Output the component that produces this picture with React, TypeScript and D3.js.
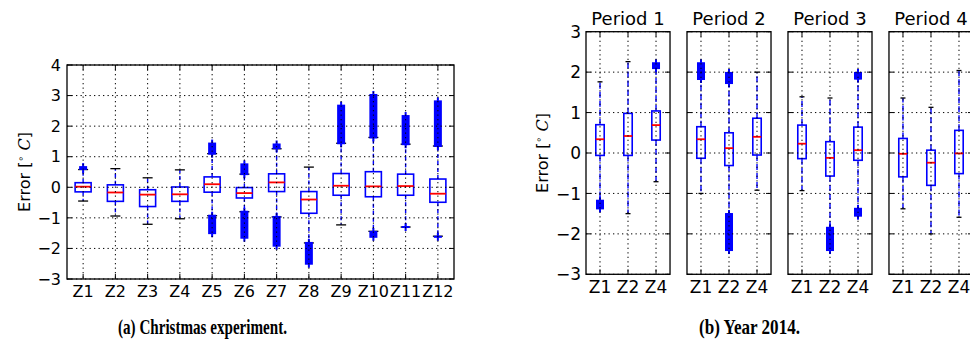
import * as d3 from 'd3'

// (a) Christmas experiment: one box per zone
const zonesA = ['Z1', 'Z2', 'Z3', 'Z4', 'Z5', 'Z6', 'Z7', 'Z8', 'Z9', 'Z10', 'Z11', 'Z12']
const medA = [0.02, -0.17, -0.24, -0.23, 0.10, -0.19, 0.16, -0.40, 0.05, 0.03, 0.04, -0.21]
const q1A = [-0.15, -0.46, -0.63, -0.46, -0.16, -0.35, -0.14, -0.85, -0.26, -0.31, -0.26, -0.49]
const q3A = [0.15, 0.08, -0.08, 0.01, 0.34, -0.01, 0.44, -0.14, 0.45, 0.51, 0.43, 0.27]
const whLoA = [-0.45, -0.94, -1.21, -1.03, -0.93, -0.80, -0.97, -1.82, -1.23, -1.44, -1.30, -1.60]
const whHiA = [0.58, 0.61, 0.31, 0.57, 1.10, 0.43, 1.26, 0.66, 1.44, 1.63, 1.41, 1.35]
// outlier clusters as [low, high] ranges of stacked '+' markers
const fliersA: [number, number][][] = [
  [[0.6, 0.66]],
  [],
  [],
  [],
  [[1.1, 1.43], [-1.5, -0.93]],
  [[0.43, 0.75], [-1.65, -0.8]],
  [[1.28, 1.4], [-1.91, -0.97]],
  [[-2.5, -1.82]],
  [[1.44, 2.67]],
  [[1.63, 3.02], [-1.62, -1.46]],
  [[1.41, 2.33], [-1.3, -1.3]],
  [[1.35, 2.81], [-1.62, -1.62]],
]
const yTicksA = [-3, -2, -1, 0, 1, 2, 3, 4]

// (b) Year 2014: four periods, three zones each
const periods = ['Period 1', 'Period 2', 'Period 3', 'Period 4']
const zonesB = ['Z1', 'Z2', 'Z4']
const medB = [[0.34, 0.42, 0.69], [0.34, 0.12, 0.40], [0.23, -0.12, 0.07], [-0.02, -0.24, -0.01]]
const q1B = [[-0.06, -0.06, 0.32], [-0.13, -0.31, -0.05], [-0.14, -0.57, -0.18], [-0.59, -0.80, -0.51]]
const q3B = [[0.70, 0.98, 1.04], [0.65, 0.50, 0.86], [0.69, 0.28, 0.64], [0.36, 0.07, 0.56]]
const whLoB = [[-1.18, -1.5, -0.71], [-1.0, -1.51, -0.92], [-0.93, -1.85, -1.38], [-1.38, -2.0, -1.59]]
const whHiB = [[1.76, 2.26, 2.1], [1.83, 1.73, 2.0], [1.39, 1.36, 1.84], [1.36, 1.13, 2.04]]
const fliersB: [number, number][][][] = [
  [[[-1.37, -1.18]], [], [[2.1, 2.22]]],
  [[[1.83, 2.22]], [[1.73, 1.98], [-2.4, -1.51]], []],
  [[], [[-2.4, -1.85]], [[1.84, 1.98], [-1.55, -1.38]]],
  [[], [], []],
]
const yTicksB = [-3, -2, -1, 0, 1, 2, 3]

const BLUE = '#0000ff'
const FONT = 'DejaVu Sans, sans-serif'
const SERIF = 'Liberation Serif, Times New Roman, serif'
const fmt = (v: number) => (v < 0 ? '\u2212' + Math.abs(v) : String(v))

function Box(props: {
  cx: number; y: d3.ScaleLinear<number, number>; w: number; capW: number; dash: string
  med: number; q1: number; q3: number; lo: number; hi: number; fliers: [number, number][]
}) {
  const { cx, y, w, capW, dash, med, q1, q3, lo, hi, fliers } = props
  return (
    <g>
      <line x1={cx} x2={cx} y1={y(q3)} y2={y(hi)} stroke={BLUE} strokeWidth={1.4} strokeDasharray={dash} />
      <line x1={cx} x2={cx} y1={y(q1)} y2={y(lo)} stroke={BLUE} strokeWidth={1.4} strokeDasharray={dash} />
      <line x1={cx - capW / 2} x2={cx + capW / 2} y1={y(hi)} y2={y(hi)} stroke="#000" strokeWidth={1.3} />
      <line x1={cx - capW / 2} x2={cx + capW / 2} y1={y(lo)} y2={y(lo)} stroke="#000" strokeWidth={1.3} />
      <rect x={cx - w / 2} y={y(q3)} width={w} height={y(q1) - y(q3)} fill="none" stroke={BLUE} strokeWidth={1.6} />
      <line x1={cx - w / 2} x2={cx + w / 2} y1={y(med)} y2={y(med)} stroke="#ff0000" strokeWidth={1.8} />
      {fliers.map(([a, b], i) => (
        <g key={i}>
          <rect x={cx - 4} y={y(b) - 1} width={8} height={y(a) - y(b) + 2} fill={BLUE} />
          <line x1={cx} x2={cx} y1={y(b) - 4} y2={y(a) + 4} stroke={BLUE} strokeWidth={2} />
        </g>
      ))}
    </g>
  )
}

function Frame(props: {
  x0: number; x1: number; y0: number; y1: number
  xs: number[]; ys: number[]
}) {
  const { x0, x1, y0, y1, xs, ys } = props
  const t = 5
  return (
    <g>
      {ys.map((v, i) => (
        <line key={'gy' + i} x1={x0} x2={x1} y1={v} y2={v} stroke="#000" strokeWidth={1} strokeDasharray="1.3,3.2" />
      ))}
      {xs.map((v, i) => (
        <line key={'gx' + i} x1={v} x2={v} y1={y0} y2={y1} stroke="#000" strokeWidth={1} strokeDasharray="1.3,3.2" />
      ))}
      {ys.map((v, i) => (
        <g key={'ty' + i}>
          <line x1={x0} x2={x0 + t} y1={v} y2={v} stroke="#000" strokeWidth={1} />
          <line x1={x1 - t} x2={x1} y1={v} y2={v} stroke="#000" strokeWidth={1} />
        </g>
      ))}
      {xs.map((v, i) => (
        <g key={'tx' + i}>
          <line x1={v} x2={v} y1={y1} y2={y1 - t} stroke="#000" strokeWidth={1} />
          <line x1={v} x2={v} y1={y0} y2={y0 + t} stroke="#000" strokeWidth={1} />
        </g>
      ))}
      <rect x={x0} y={y0} width={x1 - x0} height={y1 - y0} fill="none" stroke="#000" strokeWidth={1.3} />
    </g>
  )
}

function YLabel(props: { x: number; y: number; size: number }) {
  const { x, y, size } = props
  return (
    <text transform={`translate(${x},${y}) rotate(-90)`} textAnchor="middle" fontFamily={FONT} fontSize={size} fill="#000">
      Error [
      <tspan dy={-6} fontSize={size * 0.6}>{'\u2218'}</tspan>
      <tspan dy={6} fontStyle="italic" fontFamily="DejaVu Serif, serif">{' C'}</tspan>
      ]
    </text>
  )
}

export default function App() {
  const xA = d3.scaleLinear().domain([0.5, zonesA.length + 0.5]).range([67, 454])
  const yA = d3.scaleLinear().domain([-3, 4]).range([279, 65])

  const panel = d3.scaleBand<string>().domain(periods).range([586, 973]).paddingInner(0.168)
  const yB = d3.scaleLinear().domain([-3, 3]).range([274.3, 31.7])

  return (
    <svg width={970} height={349} style={{ position: 'absolute', left: 0, top: 0, background: '#fff' }}>
      {/* (a) */}
      {zonesA.map((z, i) => (
        <Box key={z} cx={xA(i + 1)} y={yA} w={16} capW={10} dash="4,3"
          med={medA[i]} q1={q1A[i]} q3={q3A[i]} lo={whLoA[i]} hi={whHiA[i]} fliers={fliersA[i]} />
      ))}
      <Frame x0={xA.range()[0]} x1={xA.range()[1]} y0={yA.range()[1]} y1={yA.range()[0]}
        xs={zonesA.map((_, i) => xA(i + 1))} ys={yTicksA.map(v => yA(v))} />
      {yTicksA.map(v => (
        <text key={v} x={61} y={yA(v)} dy="0.36em" textAnchor="end" fontFamily={FONT} fontSize={16}>{fmt(v)}</text>
      ))}
      {zonesA.map((z, i) => (
        <text key={z} x={xA(i + 1)} y={297} textAnchor="middle" fontFamily={FONT} fontSize={16}>{z}</text>
      ))}
      <YLabel x={30} y={172} size={16} />
      <text x={118} y={334} fontFamily={SERIF} fontWeight="bold" fontSize={21}
        textLength={169} lengthAdjust="spacingAndGlyphs">
        (a) Christmas experiment.
      </text>

      {/* (b) */}
      {periods.map((p, pi) => {
        const left = panel(p)!
        const xb = d3.scaleLinear().domain([0.5, zonesB.length + 0.5]).range([left, left + panel.bandwidth()])
        return (
          <g key={p}>
            {zonesB.map((z, i) => (
              <Box key={z} cx={xb(i + 1)} y={yB} w={8.4} capW={5} dash="6,3"
                med={medB[pi][i]} q1={q1B[pi][i]} q3={q3B[pi][i]} lo={whLoB[pi][i]} hi={whHiB[pi][i]} fliers={fliersB[pi][i]} />
            ))}
            <Frame x0={xb.range()[0]} x1={xb.range()[1]} y0={yB.range()[1]} y1={yB.range()[0]}
              xs={zonesB.map((_, i) => xb(i + 1))} ys={yTicksB.map(v => yB(v))} />
            {zonesB.map((z, i) => (
              <text key={z} x={xb(i + 1)} y={293} textAnchor="middle" fontFamily={FONT} fontSize={17}>{z}</text>
            ))}
            <text x={left + panel.bandwidth() / 2} y={25} textAnchor="middle" fontFamily={FONT} fontSize={18}>{p}</text>
          </g>
        )
      })}
      {yTicksB.map(v => (
        <text key={v} x={581} y={yB(v)} dy="0.36em" textAnchor="end" fontFamily={FONT} fontSize={17}>{fmt(v)}</text>
      ))}
      <YLabel x={548} y={153} size={16} />
      <text x={699} y={334} fontFamily={SERIF} fontWeight="bold" fontSize={21}
        textLength={101} lengthAdjust="spacingAndGlyphs">
        (b) Year 2014.
      </text>
    </svg>
  )
}
